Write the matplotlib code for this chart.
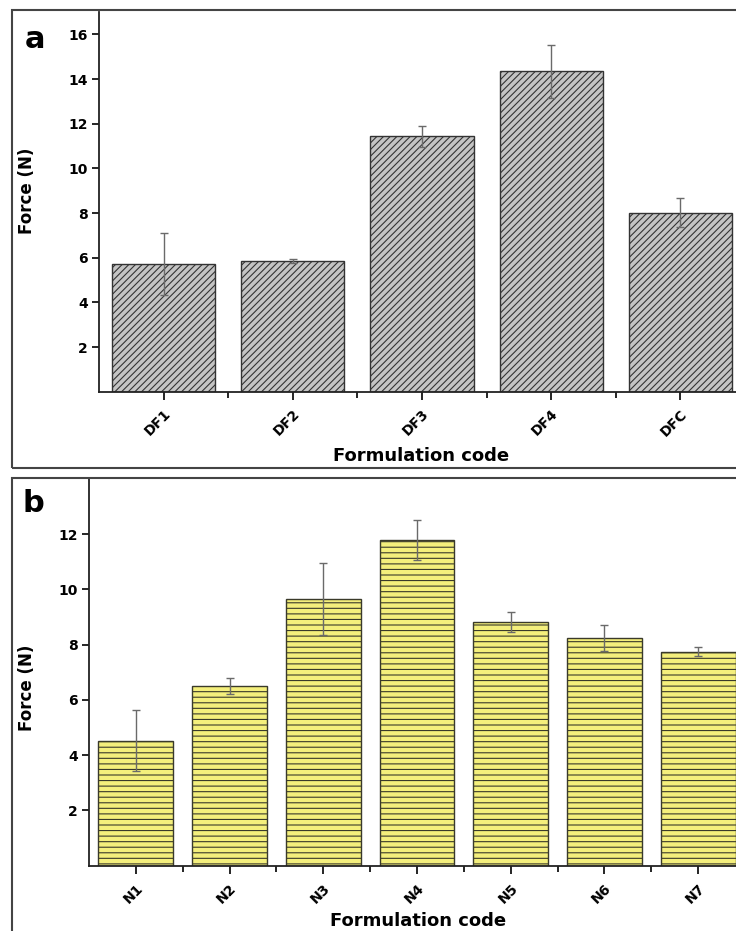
import matplotlib.pyplot as plt
from matplotlib.patches import Rectangle
from matplotlib.ticker import FixedLocator

plt.rcParams['font.family'] = ['DejaVu Sans']
plt.rcParams['font.weight'] = 'bold'
plt.rcParams['hatch.linewidth'] = 0.8

# Panel a data
codes_a = ["DF1", "DF2", "DF3", "DF4", "DFC"]
force_a = [5.72, 5.85, 11.43, 14.34, 8.02]
err_a = [1.37, 0.1, 0.46, 1.17, 0.63]

# Panel b data
codes_b = ["N1", "N2", "N3", "N4", "N5", "N6", "N7"]
force_b = [4.52, 6.51, 9.65, 11.78, 8.82, 8.23, 7.75]
err_b = [1.1, 0.28, 1.3, 0.72, 0.37, 0.47, 0.17]

W, H = 736, 931
fig = plt.figure(figsize=(W / 100, H / 100), dpi=100)


def px_axes(left, right, top, bottom):
    return fig.add_axes([left / W, 1 - bottom / H, (right - left) / W, (bottom - top) / H])


def style_axes(ax, n, codes, ymax, yticks):
    pos = list(range(1, n + 1))
    ax.set_xlim(0.5, n + 0.5)
    ax.set_ylim(0, ymax)
    ax.set_xticks(pos)
    ax.set_xticklabels(codes, rotation=45, ha="right", rotation_mode="anchor",
                       fontsize=10, fontweight="bold")
    ax.xaxis.set_minor_locator(FixedLocator([p + 0.5 for p in pos[:-1]]))
    ax.set_yticks(yticks)
    ax.set_yticklabels([str(t) for t in yticks], fontsize=10, fontweight="bold")
    for s in ["top", "right"]:
        ax.spines[s].set_visible(False)
    for s in ["left", "bottom"]:
        ax.spines[s].set_linewidth(1.3)
        ax.spines[s].set_color("#222222")
    ax.tick_params(axis="y", direction="out", length=5, width=1.2, pad=3)
    ax.tick_params(axis="x", which="major", direction="out", length=6, width=1.2, pad=5)
    ax.tick_params(axis="x", which="minor", direction="out", length=4, width=1.2)
    ax.set_facecolor("none")


# ---- panel a ----
ax1 = px_axes(99, 745, 12, 391.7)
pos_a = list(range(1, len(codes_a) + 1))
ax1.bar(pos_a, force_a, width=0.8, color="#c4c4c4", edgecolor="#333333",
        linewidth=1.0, hatch="/////", zorder=2)
ax1.errorbar(pos_a, force_a, yerr=err_a, fmt="none", ecolor="#6a6a6a",
             elinewidth=1.0, capsize=3, capthick=1.0, zorder=3)
style_axes(ax1, len(codes_a), codes_a, 17, [2, 4, 6, 8, 10, 12, 14, 16])

# ---- panel b ----
ax2 = px_axes(89, 745, 479, 865.5)
pos_b = list(range(1, len(codes_b) + 1))
ax2.bar(pos_b, force_b, width=0.8, color="#f4ef7c", edgecolor="#3a3a2a",
        linewidth=1.0, hatch="---", zorder=2)
ax2.errorbar(pos_b, force_b, yerr=err_b, fmt="none", ecolor="#6a6a6a",
             elinewidth=1.0, capsize=3, capthick=1.0, zorder=3)
style_axes(ax2, len(codes_b), codes_b, 14, [2, 4, 6, 8, 10, 12])

# outer frames around each panel
fig.patches.append(Rectangle((12 / W, 1 - 467.7 / H), 1.0, (467.7 - 10) / H,
                             transform=fig.transFigure, fill=False,
                             edgecolor="#444444", linewidth=1.5))
fig.patches.append(Rectangle((12 / W, -0.05), 1.0, 0.05 + (H - 477.7) / H,
                             transform=fig.transFigure, fill=False,
                             edgecolor="#444444", linewidth=1.5))

# panel letters and axis titles
fig.text(35 / W, 1 - 40 / H, "a", fontsize=22, fontweight="bold", ha="center", va="center")
fig.text(33 / W, 1 - 503 / H, "b", fontsize=22, fontweight="bold", ha="center", va="center")
fig.text(27 / W, 1 - 191 / H, "Force (N)", fontsize=12, fontweight="bold",
         rotation=90, ha="center", va="center")
fig.text(27 / W, 1 - 688 / H, "Force (N)", fontsize=12, fontweight="bold",
         rotation=90, ha="center", va="center")
fig.text(421 / W, 1 - 456 / H, "Formulation code", fontsize=13, fontweight="bold",
         ha="center", va="center")
fig.text(418 / W, 1 - 921 / H, "Formulation code", fontsize=13, fontweight="bold",
         ha="center", va="center")

fig.savefig("out.png", dpi=100)
